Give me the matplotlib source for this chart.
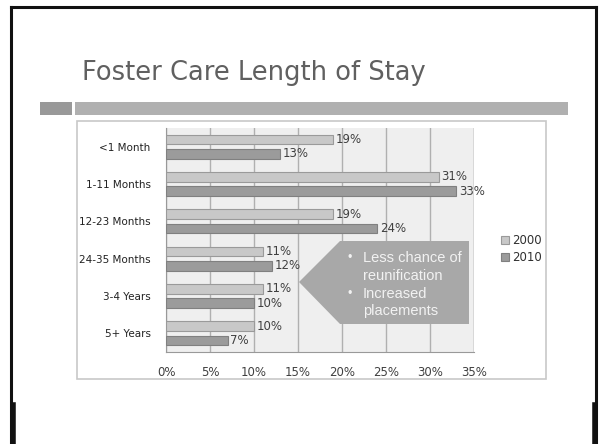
import numpy as np
import matplotlib.pyplot as plt
from matplotlib.patches import Rectangle, Polygon
from matplotlib.lines import Line2D

categories = ['<1 Month', '1-11 Months', '12-23 Months', '24-35 Months', '3-4 Years', '5+ Years']
y2000 = [19, 31, 19, 11, 11, 10]
y2010 = [13, 33, 24, 12, 10, 7]
series_names = ['2000', '2010']
xticks = [0, 5, 10, 15, 20, 25, 30, 35]
callout_lines = ['Less chance of', 'reunification', 'Increased', 'placements']

W, H = 600, 444
fig = plt.figure(figsize=(6, 4.44), dpi=100)
fig.patch.set_facecolor('white')

def fx(px):
    return px / W

def fy(py):
    return 1 - py / H

# slide border
for xs, ys, lw in [([11, 596], [7, 7], 2.2), ([11, 11], [7, 444], 2.2), ([596, 596], [7, 444], 2.2),
                   ([13, 13], [405, 444], 4), ([595, 595], [405, 444], 4)]:
    fig.add_artist(Line2D([fx(x) for x in xs], [fy(y) for y in ys], color='#111111', lw=lw))

# title and header bar
fig.text(fx(82), fy(80), 'Foster Care Length of Stay', fontsize=18.5, color='#606060',
         ha='left', va='baseline', family='DejaVu Sans')
fig.add_artist(Rectangle((fx(40), fy(115)), fx(32), 13 / H, color='#999999', lw=0))
fig.add_artist(Rectangle((fx(75), fy(115)), fx(493), 13 / H, color='#b0b0b0', lw=0))

# chart frame
fig.add_artist(Rectangle((fx(77), fy(379)), fx(469), 258 / H, facecolor='white',
                         edgecolor='#c8c8c8', lw=1.2, zorder=0.5))

ax = fig.add_axes([fx(166), fy(352), fx(308), 224 / H])
ax.set_zorder(2)
ax.set_facecolor('#efefef')
pos = np.arange(len(categories))
h = 0.26
off = 0.195
b1 = ax.barh(pos - off, y2000, height=h, color='#c8c8c8', edgecolor='#9a9a9a', lw=0.8, label=series_names[0], zorder=3)
b2 = ax.barh(pos + off, y2010, height=h, color='#9b9b9b', edgecolor='#808080', lw=0.8, label=series_names[1], zorder=3)
for bars, vals in [(b1, y2000), (b2, y2010)]:
    for b, v in zip(bars, vals):
        ax.text(v + 0.3, b.get_y() + b.get_height() / 2, f'{v}%', va='center', ha='left',
                fontsize=8.5, color='#404040', zorder=4)

ax.set_ylim(len(categories) - 0.5, -0.5)
ax.set_xlim(0, 35)
ax.set_xticks(xticks)
ax.set_xticklabels([f'{t}%' for t in xticks], fontsize=8.5, color='#404040')
ax.set_yticks(pos)
ax.set_yticklabels(categories, fontsize=7.5, color='#222222')
ax.tick_params(length=0, pad=10)
ax.tick_params(axis='y', pad=11)
ax.xaxis.grid(True, color='#b0b0b0', lw=1, zorder=0)
for s in ['top', 'right']:
    ax.spines[s].set_visible(False)
ax.spines['left'].set_color('#999999')
ax.spines['bottom'].set_color('#999999')
ax.axvline(35, color='#b0b0b0', lw=1)

fig.legend(handles=[b1, b2], loc='center left', bbox_to_anchor=(fx(490), fy(249)), frameon=False,
           fontsize=8.5, handlelength=0.7, handleheight=0.7, handletextpad=0.25, labelspacing=0.35,
           labelcolor='#303030')

# callout arrow
pts = [(299, 282), (340, 241), (469, 241), (469, 324), (340, 324)]
fig.add_artist(Polygon([(fx(x), fy(y)) for x, y in pts], closed=True, facecolor='#a8a8a8',
                       edgecolor='none', zorder=5))
line_y = [258, 276, 294, 311]
for i, (txt, ly) in enumerate(zip(callout_lines, line_y)):
    if i in (0, 2):
        fig.text(fx(348), fy(ly), '•', fontsize=9, color='#f2f2f2', va='center', ha='left',
                 family='Liberation Sans', zorder=6)
    fig.text(fx(363), fy(ly), txt, fontsize=10.5, color='#f2f2f2', va='center', ha='left',
             family='Liberation Sans', zorder=6)

fig.savefig('out.png', dpi=100)
